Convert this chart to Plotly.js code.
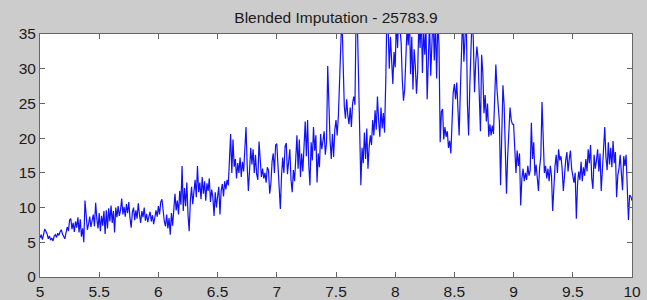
<!DOCTYPE html>
<html>
<head>
<meta charset="utf-8">
<script src="https://cdn.plot.ly/plotly-3.0.1.min.js"></script>
<style>html,body{margin:0;padding:0;background:#cccccc;}#chart{width:647px;height:300px;}</style>
</head>
<body>
<div id="chart"></div>
<script>
const titleText = "Blended Imputation - 25783.9";
const xStart = 5;
const xStep = 0.01;
const xTicks = [5, 5.5, 6, 6.5, 7, 7.5, 8, 8.5, 9, 9.5, 10];
const xTickLabels = ["5", "5.5", "6", "6.5", "7", "7.5", "8", "8.5", "9", "9.5", "10"];
const yTicks = [0, 5, 10, 15, 20, 25, 30, 35];
const yTickLabels = ["0", "5", "10", "15", "20", "25", "30", "35"];
const values = [
5.6,6.1,5.4,6.3,6.9,6.6,6.2,5.5,5.9,5.3,
5.6,5.2,5.9,6.1,5.7,6.3,6.0,6.5,6.8,6.2,
5.8,5.5,6.4,7.2,6.6,8.2,8.4,6.9,7.8,6.5,
8.0,7.1,8.6,6.4,8.3,5.8,7.0,5.0,11.0,8.2,
6.8,7.6,8.7,7.2,8.3,9.0,7.3,10.7,8.4,7.0,
9.2,6.6,8.8,7.4,9.5,6.2,9.6,7.0,9.9,8.0,
10.3,7.8,9.5,6.4,10.0,8.6,10.2,8.8,9.6,11.3,
9.0,10.1,8.7,10.5,9.2,10.8,8.5,7.1,9.3,10.0,
8.2,9.6,8.4,10.6,9.0,7.8,9.5,8.6,10.0,8.1,
9.1,7.9,8.7,9.4,8.0,8.9,7.6,8.5,9.6,8.7,
10.2,9.0,10.8,11.2,9.4,8.0,7.3,9.0,7.0,8.5,
6.1,9.2,7.4,10.5,12.0,9.6,11.0,9.0,12.4,10.4,
16.0,9.5,12.8,10.2,13.6,9.0,6.6,11.0,13.0,10.5,
12.2,14.0,11.5,16.0,12.2,13.6,11.2,14.4,12.0,13.8,
11.0,13.5,12.4,14.2,10.8,12.6,11.5,8.8,12.2,10.0,
11.6,13.0,9.0,12.4,13.4,11.6,13.8,12.6,14.0,13.2,
16.8,20.6,15.0,19.8,15.9,17.0,14.2,16.4,15.0,17.2,
14.4,16.6,15.2,18.2,21.6,16.0,12.4,15.4,18.6,16.2,
18.4,15.0,17.6,14.8,14.0,19.5,16.0,14.4,15.6,14.2,
15.0,13.6,15.8,15.4,12.0,13.4,16.6,17.8,15.0,19.0,
19.2,16.4,13.0,9.8,14.6,17.2,15.0,18.8,19.3,14.8,
16.6,18.4,14.0,12.2,15.4,13.8,17.0,20.4,15.6,19.8,
14.4,17.8,15.2,19.0,22.4,17.4,22.6,16.2,13.2,19.4,
16.8,21.6,18.2,20.4,13.6,17.8,15.8,20.6,18.4,19.6,
21.0,17.6,19.4,30.4,24.0,19.6,17.0,20.6,17.3,21.2,
22.6,20.4,23.2,28.0,36.0,38.0,31.0,24.6,22.8,25.6,
23.2,22.0,24.4,21.6,25.0,26.0,24.8,38.0,37.0,30.0,
19.0,13.2,18.6,16.4,20.8,17.0,21.4,15.6,18.8,20.4,
19.0,22.6,20.4,24.0,21.2,26.0,22.6,20.2,24.4,21.4,
23.6,20.8,28.0,38.0,36.0,30.0,34.6,31.2,27.8,32.4,
30.2,37.0,33.0,38.0,35.5,33.8,28.4,25.4,27.0,31.0,
36.0,33.4,38.0,29.2,34.6,27.0,32.8,30.4,26.4,29.6,
37.0,33.0,38.0,29.4,35.8,32.0,36.0,25.6,31.8,37.0,
29.0,35.4,38.0,31.2,36.5,28.6,37.0,33.4,19.4,23.8,
24.2,19.8,21.6,20.2,21.0,18.6,19.6,17.8,24.0,26.6,
27.8,25.6,28.0,24.0,20.4,26.6,36.0,38.0,31.0,35.5,
38.0,25.0,20.4,27.4,37.0,38.0,34.0,26.6,30.8,33.2,
31.4,24.0,21.0,32.0,29.4,23.6,26.2,22.4,25.0,20.2,
22.0,20.4,21.8,20.6,26.4,30.6,27.0,25.2,22.4,13.2,
18.8,27.6,24.8,18.0,12.0,17.4,21.0,24.4,22.6,22.0,
22.0,17.0,15.0,18.2,16.0,17.8,10.3,14.2,15.6,13.8,
15.0,14.0,16.0,14.6,15.4,22.2,17.0,19.4,14.6,16.2,
13.8,12.4,15.8,17.4,25.2,18.6,15.0,16.0,14.2,15.6,
13.8,16.0,14.6,9.5,14.2,16.0,17.6,15.0,18.4,16.8,
17.4,15.6,12.4,15.0,16.8,18.0,15.2,17.0,18.2,15.6,
14.4,13.6,15.0,8.4,13.4,15.2,14.0,16.6,13.8,15.8,
14.6,17.0,15.2,18.4,16.4,19.0,14.2,12.7,17.6,15.6,
16.8,18.4,15.2,17.8,12.4,16.0,18.2,21.6,17.2,15.4,
19.4,16.2,18.6,15.8,19.6,16.4,18.0,11.5,14.6,15.6,
17.6,14.0,12.5,17.4,16.0,17.6,13.0,8.2,11.8,11.6,11.0
];

const trace = {
  type: "scatter",
  mode: "lines",
  y: values,
  x0: xStart,
  dx: xStep,
  line: {color: "#1010ff", width: 1.2},
  hoverinfo: "skip"
};

const fontFamily = "Liberation Sans, Arial, Helvetica, sans-serif";

const axisCommon = {
  showgrid: false,
  zeroline: false,
  showline: true,
  linecolor: "#666666",
  linewidth: 1,
  mirror: "ticks",
  ticks: "inside",
  ticklen: 5,
  tickcolor: "#666666",
  tickfont: {family: fontFamily, size: 15.5, color: "#1a1a1a"}
};

const layout = {
  width: 647,
  height: 300,
  paper_bgcolor: "#cccccc",
  plot_bgcolor: "#ffffff",
  margin: {l: 40, r: 15, t: 34, b: 23},
  showlegend: false,
  title: {
    text: titleText,
    font: {family: fontFamily, size: 15.5, color: "#1a1a1a"},
    x: 0.5,
    xref: "paper",
    y: 18,
    yref: "container",
    yanchor: "middle"
  },
  xaxis: Object.assign({}, axisCommon, {
    range: [5, 10],
    tickmode: "array",
    tickvals: xTicks,
    ticktext: xTickLabels,
    ticklabelstandoff: 0
  }),
  yaxis: Object.assign({}, axisCommon, {
    range: [0, 35],
    tickmode: "array",
    tickvals: yTicks,
    ticktext: yTickLabels
  })
};
layout.title.y = 1 - 18 / 300;

Plotly.newPlot("chart", [trace], layout, {staticPlot: true, displayModeBar: false});
</script>
</body>
</html>
